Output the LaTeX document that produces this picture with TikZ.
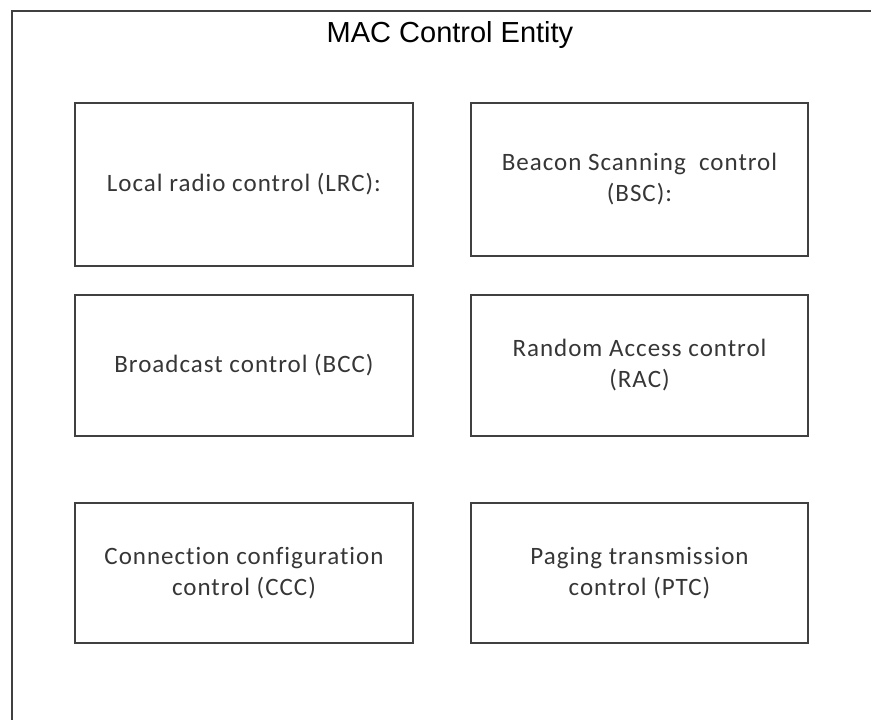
\documentclass[tikz,border=0pt]{standalone}
\usepackage{fontspec}
\setmainfont{Liberation Sans}
\newfontfamily\boxfont[LetterSpace=4,Ligatures=NoCommon]{Carlito}
\definecolor{linegray}{HTML}{404040}
\definecolor{textgray}{HTML}{363636}
\begin{document}
\begin{tikzpicture}[x=1bp,y=-1bp,
  frame/.style={draw=linegray, line width=2bp, rectangle, inner sep=0pt,
    minimum width=893bp, minimum height=749bp},
  block/.style={draw=linegray, line width=1.5bp, rectangle, inner sep=0pt,
    align=center, text=textgray,
    font=\fontsize{25bp}{31bp}\selectfont\boxfont},
  wide/.style={minimum width=338bp},
  narrow/.style={minimum width=337bp},
  heading/.style={font=\fontsize{29bp}{34bp}\selectfont, text=black, inner sep=0pt}]
\useasboundingbox (0,0) rectangle (871,720);

% enclosing entity frame (runs past the right and bottom page edges)
\node[frame] (entity) at (458.5,385.5) {};
\node[heading] (title) at (450,35) {MAC Control Entity};

% control functions, two columns
\node[block, wide,   minimum height=163bp] (lrc) at (244,184.5)   {Local radio control (LRC):};
\node[block, narrow, minimum height=153bp] (bsc) at (639.5,179.5) {Beacon Scanning~ control\\(BSC):};
\node[block, wide,   minimum height=141bp] (bcc) at (244,365.5)   {Broadcast control (BCC)};
\node[block, narrow, minimum height=141bp] (rac) at (639.5,365.5) {Random Access control\\(RAC)};
\node[block, wide,   minimum height=140bp] (ccc) at (244,573)     {Connection configuration\\control (CCC)};
\node[block, narrow, minimum height=140bp] (ptc) at (639.5,573)   {Paging transmission\\control (PTC)};
\end{tikzpicture}
\end{document}
